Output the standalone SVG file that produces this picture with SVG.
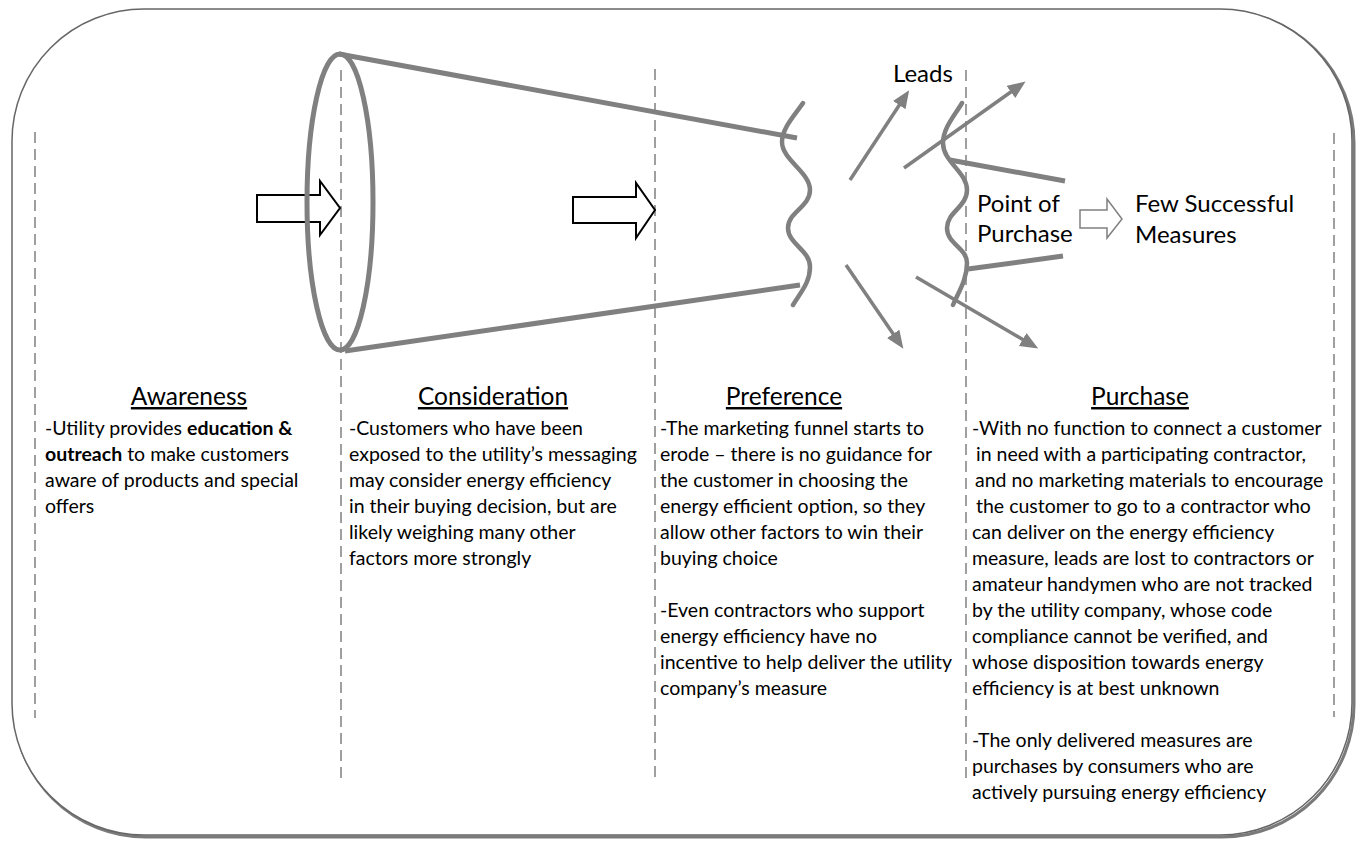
<svg xmlns="http://www.w3.org/2000/svg" width="1362" height="844" viewBox="0 0 1362 844">
<style>
.t{font-family:Lato,"Liberation Sans",sans-serif;fill:#000}
.body{font-size:19.5px}
.hd{font-size:24.5px;text-decoration:underline}
.lb{font-size:24px}
.b{font-weight:bold}
.dash{stroke:#808080;stroke-width:1.5;stroke-dasharray:11 6;fill:none}
.fun{stroke:#808080;stroke-width:5;fill:none}
.wave{stroke:#808080;stroke-width:4.5;fill:none;stroke-linecap:round}
.ga{stroke:#808080;stroke-width:3.5;fill:none;marker-end:url(#ah)}
.blk{fill:#fff;stroke:#000;stroke-width:2}
</style>
<defs>
<marker id="ah" markerUnits="userSpaceOnUse" markerWidth="20" markerHeight="16" refX="5" refY="7.5" orient="auto">
<path d="M0,0 L18,7.5 L0,15 z" fill="#808080"/>
</marker>
</defs>
<rect width="1362" height="844" fill="#fff"/>
<g id="frame">
<rect x="14" y="11" width="1340" height="826" rx="132" ry="132" fill="none" stroke="#7a7a7a" stroke-width="3"/>
<rect x="12" y="9" width="1340" height="826" rx="132" ry="132" fill="#fff" stroke="#666" stroke-width="1.5"/>
</g>
<g id="dividers">
<line class="dash" x1="35" y1="132" x2="35" y2="718"/>
<line class="dash" x1="341" y1="70" x2="341" y2="782"/>
<line class="dash" x1="655" y1="69" x2="655" y2="782"/>
<line class="dash" x1="966" y1="70" x2="966" y2="782"/>
<line class="dash" x1="1334" y1="133" x2="1334" y2="717"/>
</g>
<g id="stage-arrows">
<polygon class="blk" points="257,195 320,195 320,181 340,208 320,235 320,222 257,222"/>
<polygon class="blk" points="573,197 636,197 636,183 655,210 636,238 636,223 573,223"/>
</g>
<g id="funnel">
<ellipse class="fun" cx="340" cy="202" rx="33" ry="148"/>
<line class="fun" x1="339" y1="54" x2="797" y2="138"/>
<line class="fun" x1="345" y1="351" x2="800" y2="285"/>
<path class="wave" d="M803,103 C795,115 782,128 782,142 C782,160 810,172 810,190 C810,207 788,212 788,228 C788,244 810,250 810,267 C810,283 800,293 793,305"/>
<path class="wave" d="M962,103 C955,115 943,128 943,143 C943,162 967,172 967,190 C967,207 947,212 947,228 C947,244 967,248 967,263 C967,280 958,293 953,305"/>
<line class="fun" x1="950" y1="160" x2="1065" y2="181"/>
<line class="fun" x1="968" y1="269" x2="1063" y2="256"/>
</g>
<g id="connectors">
<line class="ga" x1="850" y1="180" x2="902" y2="101"/>
<line class="ga" x1="904" y1="168" x2="1015" y2="89"/>
<line class="ga" x1="846" y1="265" x2="896" y2="338"/>
<line class="ga" x1="916" y1="277" x2="1027" y2="342"/>
<polygon points="1080,210 1107,210 1107,199 1122,219 1107,238 1107,228 1080,228" fill="#fff" stroke="#808080" stroke-width="1.5"/>
</g>
<g id="leads"><text class="t lb" x="893" y="82">Leads</text></g>
<g id="point-of-purchase">
<text class="t lb" x="977" y="212">Point of</text>
<text class="t lb" x="977" y="242">Purchase</text>
</g>
<g id="few-successful">
<text class="t lb" x="1135" y="212">Few Successful</text>
<text class="t lb" x="1135" y="243">Measures</text>
</g>
<g id="awareness">
<text class="t hd" x="189" y="405" text-anchor="middle">Awareness</text>
<text class="t body" x="45" y="435">-Utility provides <tspan class="b">education &amp;</tspan></text>
<text class="t body" x="45" y="461"><tspan class="b">outreach</tspan> to make customers</text>
<text class="t body" x="45" y="487">aware of products and special</text>
<text class="t body" x="45" y="513">offers</text>
</g>
<g id="consideration">
<text class="t hd" x="493" y="405" text-anchor="middle">Consideration</text>
<text class="t body" x="349" y="435">-Customers who have been</text>
<text class="t body" x="349" y="461">exposed to the utility’s messaging</text>
<text class="t body" x="349" y="487">may consider energy efficiency</text>
<text class="t body" x="349" y="513">in their buying decision, but are</text>
<text class="t body" x="349" y="539">likely weighing many other</text>
<text class="t body" x="349" y="565">factors more strongly</text>
</g>
<g id="preference">
<text class="t hd" x="784" y="405" text-anchor="middle">Preference</text>
<text class="t body" x="660" y="435">-The marketing funnel starts to</text>
<text class="t body" x="660" y="461">erode – there is no guidance for</text>
<text class="t body" x="660" y="487">the customer in choosing the</text>
<text class="t body" x="660" y="513">energy efficient option, so they</text>
<text class="t body" x="660" y="539">allow other factors to win their</text>
<text class="t body" x="660" y="565">buying choice</text>
<text class="t body" x="660" y="617">-Even contractors who support</text>
<text class="t body" x="660" y="643">energy efficiency have no</text>
<text class="t body" x="660" y="669">incentive to help deliver the utility</text>
<text class="t body" x="660" y="695">company’s measure</text>
</g>
<g id="purchase">
<text class="t hd" x="1140" y="405" text-anchor="middle">Purchase</text>
<text class="t body" x="972" y="435">-With no function to connect a customer</text>
<text class="t body" x="976" y="461">in need with a participating contractor,</text>
<text class="t body" x="975" y="487">and no marketing materials to encourage</text>
<text class="t body" x="976" y="513">the customer to go to a contractor who</text>
<text class="t body" x="972" y="539">can deliver on the energy efficiency</text>
<text class="t body" x="972" y="565">measure, leads are lost to contractors or</text>
<text class="t body" x="972" y="591">amateur handymen who are not tracked</text>
<text class="t body" x="972" y="617">by the utility company, whose code</text>
<text class="t body" x="972" y="643">compliance cannot be verified, and</text>
<text class="t body" x="972" y="669">whose disposition towards energy</text>
<text class="t body" x="972" y="695">efficiency is at best unknown</text>
<text class="t body" x="972" y="747">-The only delivered measures are</text>
<text class="t body" x="972" y="773">purchases by consumers who are</text>
<text class="t body" x="972" y="799">actively pursuing energy efficiency</text>
</g>
</svg>
